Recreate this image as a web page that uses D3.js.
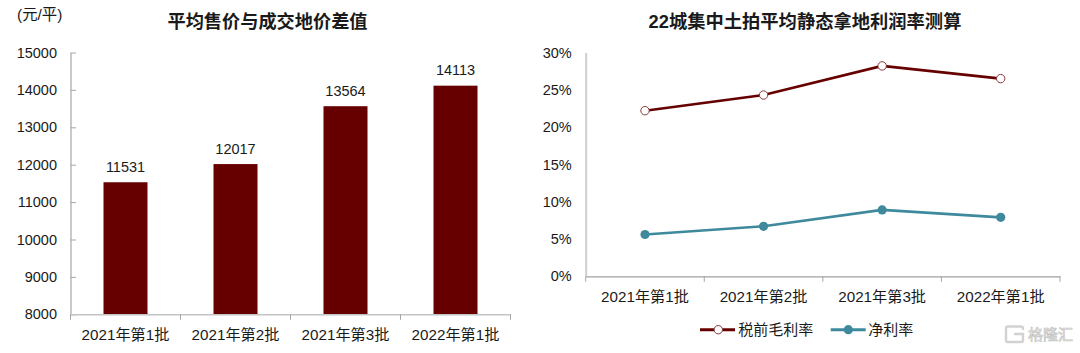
<!DOCTYPE html>
<html><head><meta charset="utf-8">
<script src="https://cdn.jsdelivr.net/npm/d3@7/dist/d3.min.js"></script>
<style>
html,body{margin:0;padding:0;background:#fff}
svg{display:block}
text{font-family:"Liberation Sans","Noto Sans CJK SC",sans-serif;fill:#1a1a1a}
</style></head><body>
<svg id="c" width="1080" height="353"></svg>
<script>
const categories=["2021年第1批","2021年第2批","2021年第3批","2022年第1批"];
const priceGap=[11531,12017,13564,14113];
const grossMargin=[22.2,24.3,28.2,26.5];
const netMargin=[5.6,6.7,8.9,7.9];
const barTicks=[8000,9000,10000,11000,12000,13000,14000,15000];
const pctTicks=[0,5,10,15,20,25,30];
const titleLeft="平均售价与成交地价差值";
const titleRight="22城集中土拍平均静态拿地利润率测算";
const unitLabel="(元/平)";
const seriesNames=["税前毛利率","净利率"];
const watermark="格隆汇";
const dark="#660000",teal="#3E8A9C";
const svg=d3.select("#c");

function styleAxis(g,color,width,fs){
  g.selectAll("path").attr("stroke",color).attr("stroke-width",width);
  g.selectAll("line").attr("stroke",color).attr("stroke-width",1);
  g.selectAll("text").style("font-size",fs);
}
function bandAxis(gp,x,y0,color,width){
  const g=gp.append("g").attr("transform",`translate(0,${y0})`)
    .call(d3.axisBottom(x).tickSize(0).tickPadding(15));
  styleAxis(g,color,width,"15.2px");
  const edges=d3.range(categories.length+1).map(i=>x.range()[0]+i*x.step());
  g.selectAll("line.e").data(edges).join("line").attr("class","e")
    .attr("x1",d=>d).attr("x2",d=>d).attr("y1",0).attr("y2",5.5)
    .attr("stroke","#a6a6a6");
}

// left chart
const xL=d3.scaleBand().domain(categories).range([70.5,510.5]);
const yL=d3.scaleLinear().domain([8000,15000]).range([314.3,52.5]);
const left=svg.append("g");
left.selectAll("rect").data(categories).join("rect")
  .attr("x",d=>xL(d)+xL.bandwidth()/2-22).attr("width",44)
  .attr("y",(d,i)=>yL(priceGap[i])).attr("height",(d,i)=>yL(8000)-yL(priceGap[i]))
  .attr("fill",dark);
const gyL=left.append("g").attr("transform","translate(70.5,0)")
  .call(d3.axisLeft(yL).tickValues(barTicks).tickFormat(d3.format("d")).tickSize(5).tickSizeOuter(0).tickPadding(8.5));
styleAxis(gyL,"#a6a6a6",1.2,"14.5px");
gyL.selectAll(".tick line").attr("x2",5.5);
bandAxis(left,xL,314.3,"#c4c4c4",1.6);
left.selectAll("text.v").data(priceGap).join("text").attr("class","v")
  .attr("x",(d,i)=>xL(categories[i])+xL.bandwidth()/2)
  .attr("y",d=>yL(d)-10.5).attr("text-anchor","middle").style("font-size","14.5px").text(d=>d);
svg.append("text").attr("x",17).attr("y",20).style("font-size","15.4px").text(unitLabel);
svg.append("text").attr("x",267.5).attr("y",27.5).attr("text-anchor","middle")
  .style("font-size","18.2px").style("font-weight","700").text(titleLeft);

// right chart
const xR=d3.scaleBand().domain(categories).range([585.7,1060]);
const yR=d3.scaleLinear().domain([0,30]).range([276.3,52.5]);
const right=svg.append("g");
const gyR=right.append("g").attr("transform","translate(585.7,0)")
  .call(d3.axisLeft(yR).tickValues(pctTicks).tickFormat(d=>d+"%").tickSize(0).tickPadding(14));
styleAxis(gyR,"#cfcfcf",2,"14.5px");
bandAxis(right,xR,276.3,"#a0a0a0",1.2);
const cx=(d,i)=>xR(categories[i])+xR.bandwidth()/2;
const line=d3.line().x(cx).y(d=>yR(d));
right.append("path").datum(netMargin).attr("d",line).attr("fill","none").attr("stroke",teal).attr("stroke-width",2.6);
right.append("path").datum(grossMargin).attr("d",line).attr("fill","none").attr("stroke",dark).attr("stroke-width",2.6);
right.selectAll("circle.g").data(grossMargin).join("circle").attr("class","g")
  .attr("cx",cx).attr("cy",d=>yR(d)).attr("r",4.2)
  .attr("fill","#fff").attr("stroke","#8a3a3a").attr("stroke-width",1);
right.selectAll("circle.n").data(netMargin).join("circle").attr("class","n")
  .attr("cx",cx).attr("cy",d=>yR(d)).attr("r",4.6)
  .attr("fill",teal);
svg.append("text").attr("x",805).attr("y",27.5).attr("text-anchor","middle")
  .style("font-size","18.3px").style("font-weight","700").text(titleRight);

// legend
const lg=svg.append("g");
lg.append("line").attr("x1",700).attr("x2",735).attr("y1",329.7).attr("y2",329.7).attr("stroke",dark).attr("stroke-width",3);
lg.append("circle").attr("cx",718.3).attr("cy",329.7).attr("r",4.2).attr("fill","#fff").attr("stroke","#8a3a3a");
lg.append("text").attr("x",738.3).attr("y",335).style("font-size","15px").text(seriesNames[0]);
lg.append("line").attr("x1",830.7).attr("x2",865.7).attr("y1",329.7).attr("y2",329.7).attr("stroke",teal).attr("stroke-width",3);
lg.append("circle").attr("cx",848.3).attr("cy",329.7).attr("r",4.6).attr("fill",teal);
lg.append("text").attr("x",868.3).attr("y",335).style("font-size","15px").text(seriesNames[1]);

// watermark
const wm=svg.append("g");
wm.append("path").attr("d","M1023 330V328.5a2 2 0 0 0-2-2H1008a2 2 0 0 0-2 2V340a2 2 0 0 0 2 2H1021a2 2 0 0 0 2-2V334H1014")
  .attr("fill","none").attr("stroke","#d2d2d2").attr("stroke-width",2.4);
wm.append("text").attr("x",1028).attr("y",340).style("font-size","15px")
  .style("fill","#f0f0f0").style("stroke","#c4c4c4").style("stroke-width",0.7).text(watermark);
</script>
</body></html>
